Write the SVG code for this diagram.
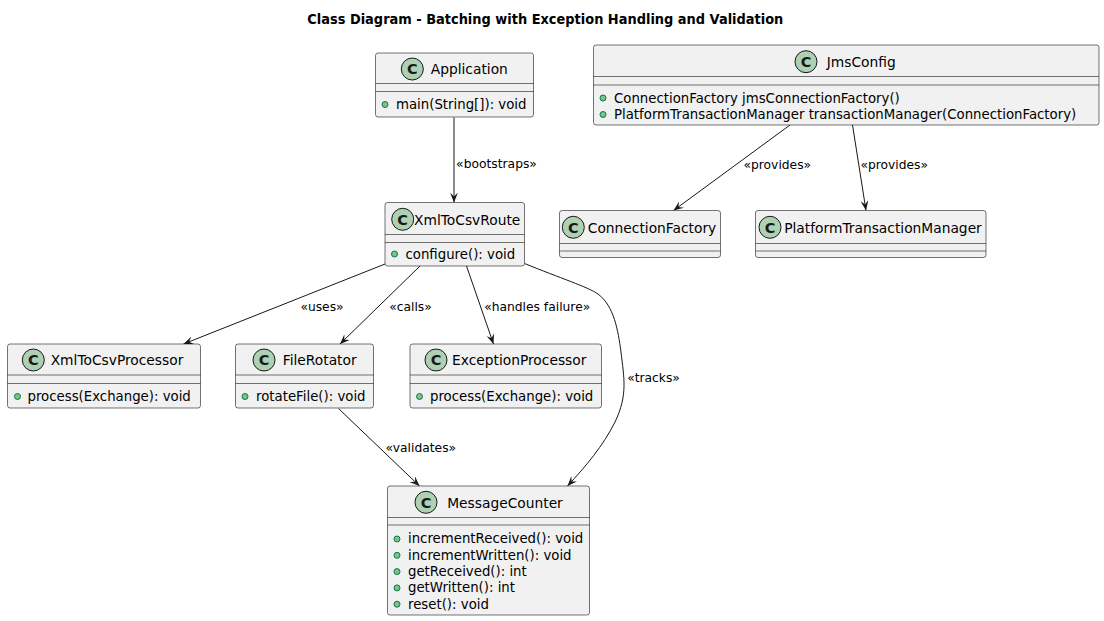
<svg xmlns="http://www.w3.org/2000/svg" width="1104" height="621" viewBox="0 0 1104 621">
<defs>
<style>
.box{fill:#F1F1F1;stroke:#181818;stroke-width:0.6}
.sep{stroke:#181818;stroke-width:0.6}
.ic{fill:#ADD1B2;stroke:#181818;stroke-width:1}
.icl{font-family:"DejaVu Sans",sans-serif;font-weight:bold;font-size:14.5px;fill:#1A1A1A;text-anchor:middle}
.nm{font-family:"DejaVu Sans",sans-serif;font-size:13.8px;fill:#000;text-anchor:middle}
.mb{font-family:"DejaVu Sans",sans-serif;font-size:13.3px;fill:#000}
.dot{fill:#84BE84;stroke:#038048;stroke-width:1}
.edge{fill:none;stroke:#181818;stroke-width:1}
.lbl{font-family:"DejaVu Sans",sans-serif;font-size:12.3px;fill:#000;text-anchor:middle}
.title{font-family:"DejaVu Sans",sans-serif;font-weight:bold;font-size:14px;fill:#000;text-anchor:middle}
</style>
<marker id="arr" viewBox="0 0 10 8" refX="10" refY="4" markerWidth="10" markerHeight="8" markerUnits="userSpaceOnUse" orient="auto">
<path d="M0,0 L10,4 L0,8 L4,4 Z" fill="#181818"/>
</marker>
</defs>
<rect width="1104" height="621" fill="#FFFFFF"/>
<text class="title" x="545.3" y="23.5" textLength="476" lengthAdjust="spacingAndGlyphs">Class Diagram - Batching with Exception Handling and Validation</text>

<g id="connectors">
<path class="edge" marker-end="url(#arr)" d="M454,117.5 L454,202.5"/>
<text class="lbl" x="496.5" y="168">«bootstraps»</text>
<path class="edge" marker-end="url(#arr)" d="M790,125 L673.5,210.5"/>
<text class="lbl" x="777.3" y="169">«provides»</text>
<path class="edge" marker-end="url(#arr)" d="M852.5,125 L866,210.5"/>
<text class="lbl" x="894.2" y="169">«provides»</text>
<path class="edge" marker-end="url(#arr)" d="M385,264 L183.5,344"/>
<text class="lbl" x="322" y="311">«uses»</text>
<path class="edge" marker-end="url(#arr)" d="M420,266 L340,344"/>
<text class="lbl" x="410.5" y="311">«calls»</text>
<path class="edge" marker-end="url(#arr)" d="M466.5,266 L493.5,344"/>
<text class="lbl" x="537.2" y="311">«handles failure»</text>
<path class="edge" marker-end="url(#arr)" d="M524.5,263.5 C560,278 588,287 598,294 C614,306 618,330 621,352 C624,378 628,395 615,422 C603,446 586,466 567.5,486"/>
<text class="lbl" x="653.5" y="381.5">«tracks»</text>
<path class="edge" marker-end="url(#arr)" d="M338.5,408.5 L419.5,486"/>
<text class="lbl" x="420.8" y="451.5">«validates»</text>
</g>

<g id="Application">
<rect class="box" x="375.5" y="53" width="158" height="64" rx="2.5"/>
<line class="sep" x1="375.5" y1="83.5" x2="533.5" y2="83.5"/>
<line class="sep" x1="375.5" y1="91.5" x2="533.5" y2="91.5"/>
<circle class="ic" cx="412.3" cy="69" r="11"/>
<text class="icl" x="412.3" y="74.2">C</text>
<text class="nm" x="469.3" y="74.3">Application</text>
<circle class="dot" cx="385" cy="104.5" r="3"/>
<text class="mb" x="396" y="109">main(String[]): void</text>
</g>

<g id="JmsConfig">
<rect class="box" x="593.5" y="45" width="505.5" height="80" rx="2.5"/>
<line class="sep" x1="593.5" y1="76.5" x2="1099" y2="76.5"/>
<line class="sep" x1="593.5" y1="85" x2="1099" y2="85"/>
<circle class="ic" cx="806" cy="61.7" r="11"/>
<text class="icl" x="806" y="66.9">C</text>
<text class="nm" x="861.2" y="67">JmsConfig</text>
<circle class="dot" cx="603" cy="98" r="3"/>
<text class="mb" x="614" y="102.7">ConnectionFactory jmsConnectionFactory()</text>
<circle class="dot" cx="603" cy="114.5" r="3"/>
<text class="mb" x="614" y="119">PlatformTransactionManager transactionManager(ConnectionFactory)</text>
</g>

<g id="XmlToCsvRoute">
<rect class="box" x="385" y="202.5" width="139.5" height="63.5" rx="2.5"/>
<line class="sep" x1="385" y1="234.5" x2="524.5" y2="234.5"/>
<line class="sep" x1="385" y1="242.5" x2="524.5" y2="242.5"/>
<circle class="ic" cx="402.7" cy="219.3" r="11"/>
<text class="icl" x="402.7" y="224.5">C</text>
<text class="nm" x="467.2" y="224.6">XmlToCsvRoute</text>
<circle class="dot" cx="394.5" cy="254" r="3"/>
<text class="mb" x="405.5" y="258.5">configure(): void</text>
</g>

<g id="ConnectionFactory">
<rect class="box" x="559.5" y="210.5" width="161" height="47" rx="2.5"/>
<line class="sep" x1="559.5" y1="243.5" x2="720.5" y2="243.5"/>
<line class="sep" x1="559.5" y1="251" x2="720.5" y2="251"/>
<circle class="ic" cx="573.3" cy="227.3" r="11"/>
<text class="icl" x="573.3" y="232.5">C</text>
<text class="nm" x="652" y="232.6">ConnectionFactory</text>
</g>

<g id="PlatformTransactionManager">
<rect class="box" x="755.5" y="210.5" width="230.5" height="47" rx="2.5"/>
<line class="sep" x1="755.5" y1="243.5" x2="986" y2="243.5"/>
<line class="sep" x1="755.5" y1="251" x2="986" y2="251"/>
<circle class="ic" cx="770" cy="227.3" r="11"/>
<text class="icl" x="770" y="232.5">C</text>
<text class="nm" x="883" y="232.6">PlatformTransactionManager</text>
</g>

<g id="XmlToCsvProcessor">
<rect class="box" x="7.5" y="344" width="193" height="64" rx="2.5"/>
<line class="sep" x1="7.5" y1="375" x2="200.5" y2="375"/>
<line class="sep" x1="7.5" y1="383.5" x2="200.5" y2="383.5"/>
<circle class="ic" cx="33.3" cy="360" r="11"/>
<text class="icl" x="33.3" y="365.2">C</text>
<text class="nm" x="117" y="365.3">XmlToCsvProcessor</text>
<circle class="dot" cx="17.5" cy="396.5" r="3"/>
<text class="mb" x="27.5" y="401">process(Exchange): void</text>
</g>

<g id="FileRotator">
<rect class="box" x="235.5" y="344" width="138" height="64" rx="2.5"/>
<line class="sep" x1="235.5" y1="375" x2="373.5" y2="375"/>
<line class="sep" x1="235.5" y1="383.5" x2="373.5" y2="383.5"/>
<circle class="ic" cx="264" cy="360" r="11"/>
<text class="icl" x="264" y="365.2">C</text>
<text class="nm" x="319.7" y="365.3">FileRotator</text>
<circle class="dot" cx="245" cy="396.5" r="3"/>
<text class="mb" x="256" y="401">rotateFile(): void</text>
</g>

<g id="ExceptionProcessor">
<rect class="box" x="410" y="344" width="191.5" height="64" rx="2.5"/>
<line class="sep" x1="410" y1="375" x2="601.5" y2="375"/>
<line class="sep" x1="410" y1="383.5" x2="601.5" y2="383.5"/>
<circle class="ic" cx="436" cy="360" r="11"/>
<text class="icl" x="436" y="365.2">C</text>
<text class="nm" x="519.2" y="365.3">ExceptionProcessor</text>
<circle class="dot" cx="419.5" cy="396.5" r="3"/>
<text class="mb" x="430" y="401">process(Exchange): void</text>
</g>

<g id="MessageCounter">
<rect class="box" x="387.5" y="486" width="202" height="129" rx="2.5"/>
<line class="sep" x1="387.5" y1="517.5" x2="589.5" y2="517.5"/>
<line class="sep" x1="387.5" y1="525" x2="589.5" y2="525"/>
<circle class="ic" cx="426" cy="502.3" r="11"/>
<text class="icl" x="426" y="507.5">C</text>
<text class="nm" x="505" y="507.6">MessageCounter</text>
<circle class="dot" cx="397" cy="539" r="3"/>
<text class="mb" x="408" y="543.3">incrementReceived(): void</text>
<circle class="dot" cx="397" cy="555.3" r="3"/>
<text class="mb" x="408" y="559.6">incrementWritten(): void</text>
<circle class="dot" cx="397" cy="571.6" r="3"/>
<text class="mb" x="408" y="575.9">getReceived(): int</text>
<circle class="dot" cx="397" cy="587.9" r="3"/>
<text class="mb" x="408" y="592.2">getWritten(): int</text>
<circle class="dot" cx="397" cy="604.2" r="3"/>
<text class="mb" x="408" y="608.5">reset(): void</text>
</g>
</svg>
